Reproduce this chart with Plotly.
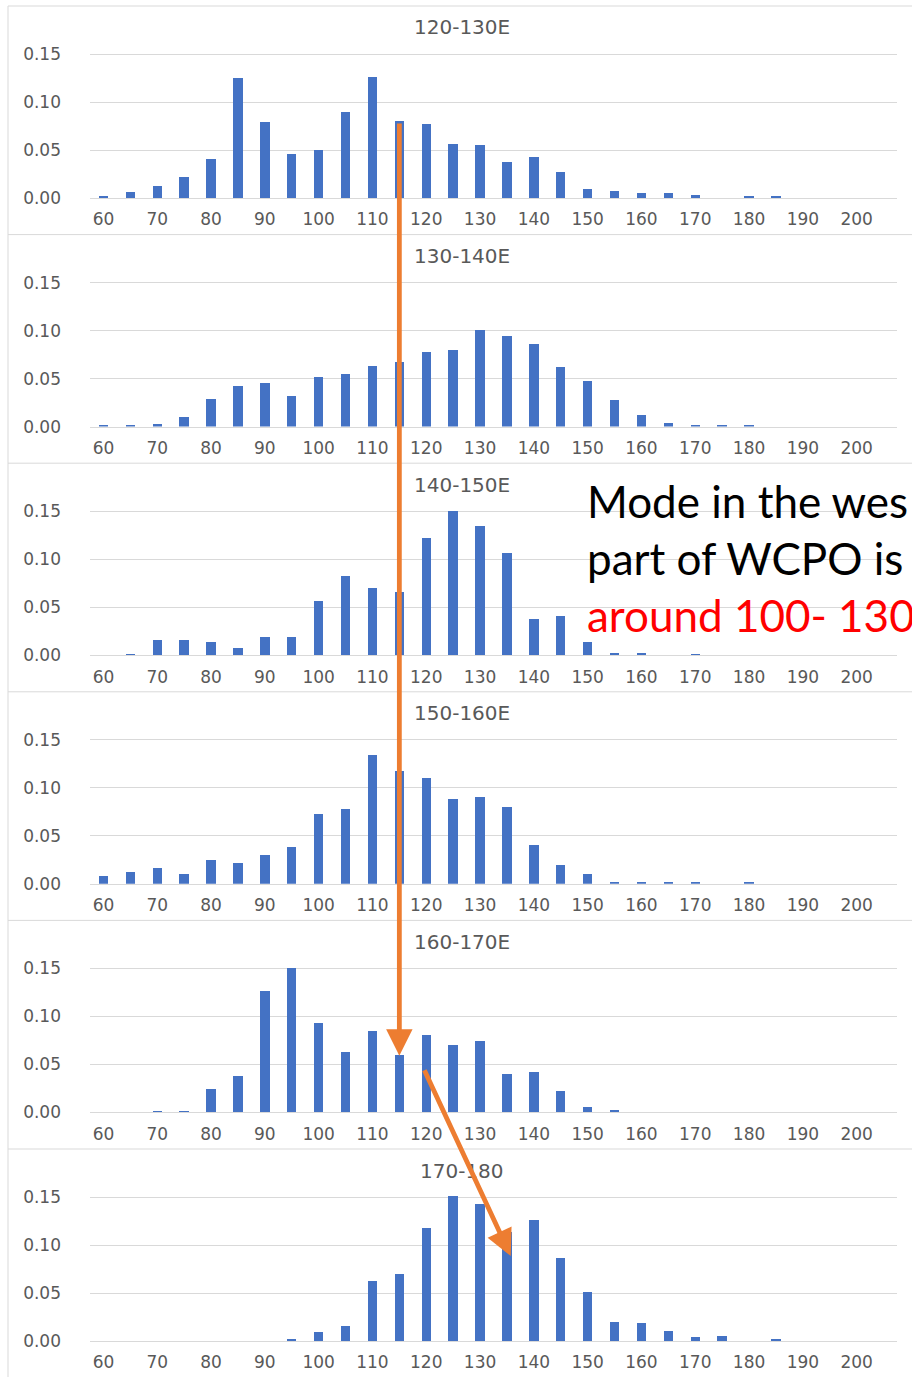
import plotly.graph_objects as go

# ---------------- data ----------------
categories = [60, 65, 70, 75, 80, 85, 90, 95, 100, 105, 110, 115, 120, 125, 130,
              135, 140, 145, 150, 155, 160, 165, 170, 175, 180, 185, 190, 195, 200, 205]
tick_vals = [60, 70, 80, 90, 100, 110, 120, 130, 140, 150, 160, 170, 180, 190, 200]
tick_text = ["60", "70", "80", "90", "100", "110", "120", "130", "140", "150",
             "160", "170", "180", "190", "200"]
y_ticks = [0.0, 0.05, 0.10, 0.15]

panel_titles = ["120-130E", "130-140E", "140-150E", "150-160E", "160-170E", "170-180"]

v_120_130 = [0.0017, 0.0056, 0.0118, 0.0216, 0.0401, 0.1242, 0.0785, 0.0453, 0.0495, 0.0890,
             0.1256, 0.0795, 0.0764, 0.0558, 0.0551, 0.0370, 0.0422, 0.0262, 0.0094, 0.0073,
             0.0049, 0.0049, 0.0031, 0.0, 0.0010, 0.0010, 0.0, 0.0, 0.0, 0.0]
v_130_140 = [0.0007, 0.0017, 0.0030, 0.0098, 0.0290, 0.0422, 0.0453, 0.0321, 0.0520, 0.0551,
             0.0628, 0.0677, 0.0774, 0.0802, 0.1005, 0.0945, 0.0862, 0.0624, 0.0478, 0.0280,
             0.0126, 0.0042, 0.0017, 0.0007, 0.0007, 0.0, 0.0, 0.0, 0.0, 0.0]
v_140_150 = [0.0, 0.0014, 0.0158, 0.0158, 0.0137, 0.0084, 0.0196, 0.0196, 0.0564, 0.0830,
             0.0708, 0.0662, 0.1223, 0.1503, 0.1353, 0.1069, 0.0382, 0.0414, 0.0137, 0.0028,
             0.0028, 0.0, 0.0014, 0.0, 0.0, 0.0, 0.0, 0.0, 0.0, 0.0]
v_150_160 = [0.0081, 0.0126, 0.0165, 0.0105, 0.0242, 0.0217, 0.0301, 0.0379, 0.0722, 0.0782,
             0.1342, 0.1174, 0.1104, 0.0883, 0.0901, 0.0796, 0.0400, 0.0189, 0.0095, 0.0018,
             0.0007, 0.0007, 0.0007, 0.0, 0.0007, 0.0, 0.0, 0.0, 0.0, 0.0]
v_160_170 = [0.0, 0.0, 0.0014, 0.0014, 0.0248, 0.0384, 0.1266, 0.1503, 0.0935, 0.0635,
             0.0848, 0.0597, 0.0809, 0.0705, 0.0747, 0.0398, 0.0422, 0.0223, 0.0056, 0.0024,
             0.0, 0.0, 0.0, 0.0, 0.0, 0.0, 0.0, 0.0, 0.0, 0.0]
v_170_180 = [0.0, 0.0, 0.0, 0.0, 0.0, 0.0, 0.0, 0.0017, 0.0087, 0.0153,
             0.0620, 0.0690, 0.1169, 0.1503, 0.1423, 0.1130, 0.1252, 0.0858, 0.0506, 0.0195,
             0.0181, 0.0098, 0.0035, 0.0049, 0.0, 0.0017, 0.0, 0.0, 0.0, 0.0]

series = [v_120_130, v_130_140, v_140_150, v_150_160, v_160_170, v_170_180]

# ---------------- layout constants ----------------
W = 912
H = 1387                 # photographed page is compressed to 1377 tall
VS = H / 1377.0          # target-image px -> page px (vertical)
PANEL_H = 228.6
TOP0 = 6
BAR_BLUE = "#4472C4"
ORANGE = "#ED7D31"
GRAY_TXT = "#595959"
GRID = "#d9d9d9"
TICK_FONT = dict(family="DejaVu Sans", size=17, color=GRAY_TXT)


def py(img_px):
    return 1 - (img_px * VS) / H


fig = go.Figure()
layout = dict(
    width=W, height=H,
    margin=dict(l=0, r=0, t=0, b=0),
    paper_bgcolor="white", plot_bgcolor="white",
    showlegend=False,
    bargap=0,
)
annotations = []
shapes = []

for i, (title, vals) in enumerate(zip(panel_titles, series)):
    n = i + 1
    T = TOP0 + PANEL_H * i
    xa = "x" if n == 1 else f"x{n}"
    ya = "y" if n == 1 else f"y{n}"
    fig.add_trace(go.Bar(
        x=categories, y=vals, xaxis=xa, yaxis=ya,
        marker=dict(color=BAR_BLUE, line=dict(width=0)),
        width=1.75, hoverinfo="skip",
    ))
    zero_px = T + 192
    top_px = T + 38.4
    layout[f"xaxis{'' if n == 1 else n}"] = dict(
        domain=[90 / W, 897 / W], range=[57.5, 207.5],
        tickmode="array", tickvals=tick_vals, ticktext=tick_text,
        showgrid=False, zeroline=False, showline=True, linecolor=GRID, linewidth=1,
        ticks="", tickfont=TICK_FONT, ticklabelstandoff=6,
        anchor=ya, fixedrange=True,
    )
    layout[f"yaxis{'' if n == 1 else n}"] = dict(
        domain=[py(zero_px), py(top_px)], range=[0, 0.16],
        tickmode="array", tickvals=y_ticks, tickformat=".2f",
        showgrid=True, gridcolor=GRID, gridwidth=1, zeroline=False,
        ticks="", tickfont=TICK_FONT, ticklabelstandoff=28,
        anchor=xa, fixedrange=True,
    )
    annotations.append(dict(
        text=title, xref="paper", yref="paper",
        x=462 / W, y=py(T + 21.5), xanchor="center", yanchor="middle",
        showarrow=False, font=dict(family="DejaVu Sans", size=20, color=GRAY_TXT),
    ))
    shapes.append(dict(type="line", xref="paper", yref="paper",
                       x0=8 / W, x1=1.01, y0=py(T), y1=py(T),
                       line=dict(color=GRID, width=1)))

shapes.append(dict(type="line", xref="paper", yref="paper",
                   x0=8 / W, x1=8 / W, y0=0, y1=py(TOP0),
                   line=dict(color=GRID, width=1)))

# Annotation text block
text_lines = [("Mode in the wes", "black", 501), ("part of WCPO is", "black", 558),
              ("around 100- 130", "#FF0000", 615)]
for txt, col, ypx in text_lines:
    annotations.append(dict(
        text=txt, xref="paper", yref="paper", x=585 / W, y=py(ypx),
        xanchor="left", yanchor="middle", showarrow=False, align="left",
        font=dict(family="Lato", size=44, color=col),
    ))

# Orange arrows
annotations.append(dict(
    text="", x=115, y=0.059, xref="x5", yref="y5",
    ax=0, ay=-927 * VS, axref="pixel", ayref="pixel",
    showarrow=True, arrowhead=2, arrowsize=1.1, arrowwidth=4.8, arrowcolor=ORANGE,
))
annotations.append(dict(
    text="", x=135.7, y=0.0885, xref="x6", yref="y6",
    ax=-87, ay=-186 * VS, axref="pixel", ayref="pixel",
    showarrow=True, arrowhead=2, arrowsize=1.1, arrowwidth=4.8, arrowcolor=ORANGE,
))

layout["annotations"] = annotations
layout["shapes"] = shapes
fig.update_layout(**layout)

fig.write_html("out.html", config={"displayModeBar": False})
